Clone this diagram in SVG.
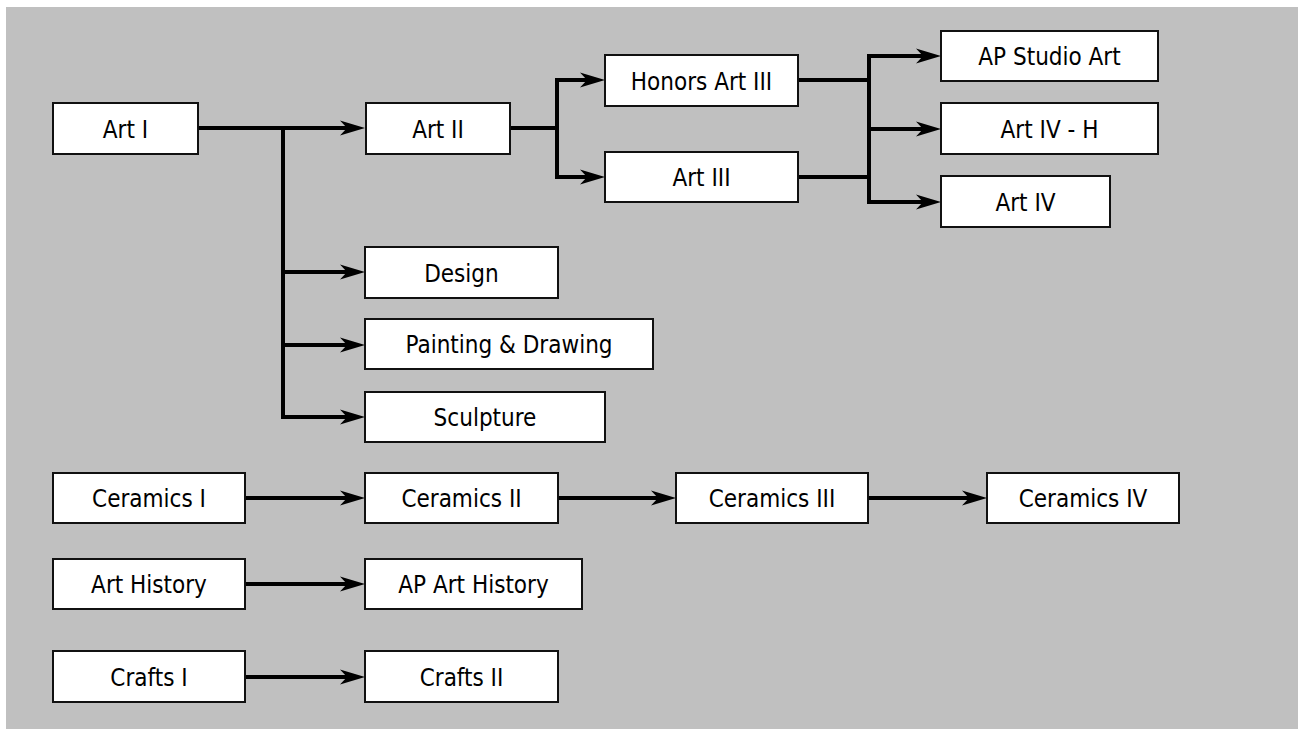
<svg xmlns="http://www.w3.org/2000/svg" width="1298" height="729" viewBox="0 0 1298 729">
<defs>
<style>
.box{fill:#fff;stroke:#111;stroke-width:2}
.lbl{font-family:"DejaVu Sans Condensed","DejaVu Sans",Verdana,sans-serif;font-stretch:condensed;font-size:24px;fill:#000;text-anchor:middle}
.ln{fill:none;stroke:#000;stroke-width:4}
.ar{marker-end:url(#ah)}
</style>
<marker id="ah" markerUnits="userSpaceOnUse" markerWidth="26" markerHeight="20" refX="15" refY="10" orient="auto">
<path d="M0,2.5 L25,10 L0,17.5 L7,10 z" fill="#000"/>
</marker>
</defs>
<rect x="0" y="0" width="1298" height="729" fill="#fff"/>
<rect x="6" y="7" width="1292" height="722" fill="#c0c0c0"/>
<g id="connectors">
<path class="ln ar" d="M198,128 H355"/>
<path class="ln ar" d="M283,128 V417 H355"/>
<path class="ln ar" d="M283,272 H355"/>
<path class="ln ar" d="M283,345 H355"/>
<path class="ln" d="M510,128 H557"/>
<path class="ln ar" d="M557,128 V80 H595"/>
<path class="ln ar" d="M557,128 V177 H595"/>
<path class="ln" d="M798,80 H869"/>
<path class="ln" d="M798,177 H869"/>
<path class="ln ar" d="M869,129 V56 H931"/>
<path class="ln ar" d="M869,129 V202 H931"/>
<path class="ln ar" d="M869,129 H931"/>
<path class="ln ar" d="M245,498 H355"/>
<path class="ln ar" d="M558,498 H666"/>
<path class="ln ar" d="M868,498 H977"/>
<path class="ln ar" d="M245,584 H355"/>
<path class="ln ar" d="M245,677 H355"/>
</g>
<g id="art1"><rect class="box" x="53" y="103" width="145" height="51"/><text class="lbl" x="125.5" y="137.5">Art I</text></g>
<g id="art2"><rect class="box" x="366" y="103" width="144" height="51"/><text class="lbl" x="438" y="137.5">Art II</text></g>
<g id="honors3"><rect class="box" x="605" y="55" width="193" height="51"/><text class="lbl" x="701.5" y="89.5">Honors Art III</text></g>
<g id="art3"><rect class="box" x="605" y="152" width="193" height="50"/><text class="lbl" x="701.5" y="186">Art III</text></g>
<g id="apstudio"><rect class="box" x="941" y="31" width="217" height="50"/><text class="lbl" x="1049.5" y="65">AP Studio Art</text></g>
<g id="art4h"><rect class="box" x="941" y="103" width="217" height="51"/><text class="lbl" x="1049.5" y="137.5">Art IV - H</text></g>
<g id="art4"><rect class="box" x="941" y="176" width="169" height="51"/><text class="lbl" x="1025.5" y="210.5">Art IV</text></g>
<g id="design"><rect class="box" x="365" y="247" width="193" height="51"/><text class="lbl" x="461.5" y="281.5">Design</text></g>
<g id="painting"><rect class="box" x="365" y="319" width="288" height="50"/><text class="lbl" x="509" y="353">Painting &amp; Drawing</text></g>
<g id="sculpture"><rect class="box" x="365" y="392" width="240" height="50"/><text class="lbl" x="485" y="426">Sculpture</text></g>
<g id="ceramics1"><rect class="box" x="53" y="473" width="192" height="50"/><text class="lbl" x="149" y="507">Ceramics I</text></g>
<g id="ceramics2"><rect class="box" x="365" y="473" width="193" height="50"/><text class="lbl" x="461.5" y="507">Ceramics II</text></g>
<g id="ceramics3"><rect class="box" x="676" y="473" width="192" height="50"/><text class="lbl" x="772" y="507">Ceramics III</text></g>
<g id="ceramics4"><rect class="box" x="987" y="473" width="192" height="50"/><text class="lbl" x="1083" y="507">Ceramics IV</text></g>
<g id="arthistory"><rect class="box" x="53" y="559" width="192" height="50"/><text class="lbl" x="149" y="593">Art History</text></g>
<g id="aparthistory"><rect class="box" x="365" y="559" width="217" height="50"/><text class="lbl" x="473.5" y="593">AP Art History</text></g>
<g id="crafts1"><rect class="box" x="53" y="651" width="192" height="51"/><text class="lbl" x="149" y="685.5">Crafts I</text></g>
<g id="crafts2"><rect class="box" x="365" y="651" width="193" height="51"/><text class="lbl" x="461.5" y="685.5">Crafts II</text></g>
</svg>
